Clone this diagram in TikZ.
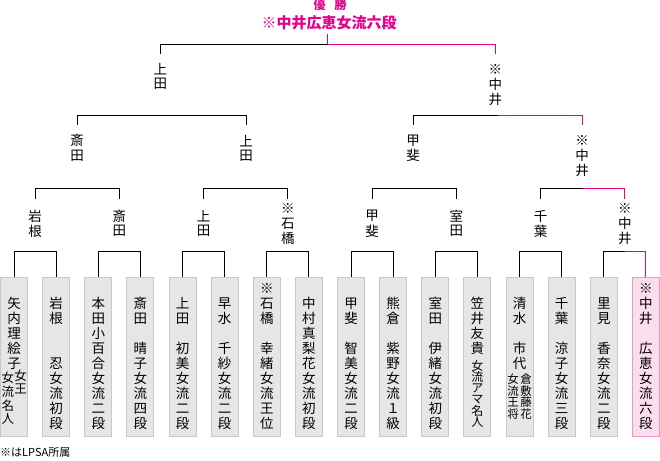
\documentclass[tikz,border=0pt]{standalone}
\usepackage{fontspec}
\setmainfont{Noto Sans CJK JP}
\usetikzlibrary{calc}
\definecolor{mg}{RGB}{230,0,140}
\definecolor{boxfill}{RGB}{230,230,230}
\definecolor{boxline}{RGB}{200,200,200}
\definecolor{pinkfill}{RGB}{252,221,238}
\definecolor{pinkline}{RGB}{240,150,200}
\makeatletter
\newcommand\vtxt[2][15pt]{\vbox{\offinterlineskip\@tfor\myvc:=#2\do{\hbox to 1.1em{\hss\vbox to #1{\vss\hbox{\myvc}\vss}\hss}}}}
\makeatother
\tikzset{
  box/.style={draw=boxline, fill=boxfill, line width=1pt, minimum width=27pt, minimum height=159pt, inner sep=0pt},
  pbox/.style={box, draw=pinkline, fill=pinkfill},
  vt/.style={inner sep=0pt, anchor=north, font=\fontsize{13.5}{15}\selectfont},
  smallvt/.style={inner sep=0pt, anchor=north, font=\fontsize{12}{12}\selectfont},
  lab/.style={inner sep=0pt, font=\fontsize{13.5}{15}\selectfont},
  br/.style={line width=1pt, black},
  brm/.style={line width=1pt, mg},
}
\begin{document}
\begin{tikzpicture}[x=1pt,y=-1pt]
\useasboundingbox (0,0) rectangle (660,460);
% title
\node[inner sep=0pt, text=mg, font=\fontsize{12}{12}\bfseries] (title1) at (330,5) {優\hspace{9pt}勝};
\node[inner sep=0pt, inner ysep=4pt, text=mg, font=\fontsize{15}{15}\bfseries] (title) at (329,23) {※中井広恵女流六段};
% boxes
\node[box] (b1) at (14,356.5) {};
\node[box] (b2) at (56.13,356.5) {};
\node[box] (b3) at (98.26,356.5) {};
\node[box] (b4) at (140.39,356.5) {};
\node[box] (b5) at (182.52,356.5) {};
\node[box] (b6) at (224.65,356.5) {};
\node[box] (b7) at (266.78,356.5) {};
\node[box] (b8) at (308.91,356.5) {};
\node[box] (b9) at (351.04,356.5) {};
\node[box] (b10) at (393.17,356.5) {};
\node[box] (b11) at (435.30,356.5) {};
\node[box] (b12) at (477.43,356.5) {};
\node[box] (b13) at (519.56,356.5) {};
\node[box] (b14) at (561.69,356.5) {};
\node[box] (b15) at (603.82,356.5) {};
\node[pbox] (b16) at (645.95,356.5) {};
% box texts
\node[vt] (t1) at (14,295.8) {\vtxt{矢内理絵子}};
\node[smallvt, font=\fontsize{12.5}{12}\selectfont] (t1a) at (7.8,371) {\vtxt[13.7pt]{女流名人}};
\node[smallvt, font=\fontsize{12.5}{12}\selectfont] (t1b) at (20.6,368.5) {\vtxt[13.5pt]{女王}};
\node[vt] (t2) at (56.13,295.8) {\vtxt{岩根　　忍女流初段}};
\node[vt] (t3) at (98.26,295.8) {\vtxt{本田小百合女流二段}};
\node[vt] (t4) at (140.39,295.8) {\vtxt{斎田　晴子女流四段}};
\node[vt] (t5) at (182.52,295.8) {\vtxt{上田　初美女流二段}};
\node[vt] (t6) at (224.65,295.8) {\vtxt{早水　千紗女流二段}};
\node[vt] (t7) at (266.78,280.8) {\vtxt{※石橋　幸緒女流王位}};
\node[vt] (t8) at (308.91,295.8) {\vtxt{中村真梨花女流初段}};
\node[vt] (t9) at (351.04,295.8) {\vtxt{甲斐　智美女流二段}};
\node[vt] (t10) at (393.17,295.8) {\vtxt{熊倉　紫野女流１級}};
\node[vt] (t11) at (435.30,295.8) {\vtxt{室田　伊緒女流初段}};
\node[vt] (t12) at (477.43,295.8) {\vtxt{笠井友貴}};
\node[smallvt] (t12a) at (477.43,360) {\vtxt[11.2pt]{女流アマ名人}};
\node[vt] (t13) at (519.56,295.8) {\vtxt{清水　市代}};
\node[smallvt, font=\fontsize{11.5}{12}\selectfont] (t13a) at (513.06,373) {\vtxt[11.7pt]{女流王将}};
\node[smallvt, font=\fontsize{11.5}{12}\selectfont] (t13b) at (526.06,373) {\vtxt[11.7pt]{倉敷藤花}};
\node[vt] (t14) at (561.69,295.8) {\vtxt{千葉　涼子女流三段}};
\node[vt] (t15) at (603.82,295.8) {\vtxt{里見　香奈女流二段}};
\node[vt] (t16) at (645.95,280.8) {\vtxt{※中井　広恵女流六段}};
% round 1 winners
\node[lab] (r11) at (35.07,223.5) {\vtxt{岩根}};
\node[lab] (r12) at (119.33,223.5) {\vtxt{斎田}};
\node[lab] (r13) at (203.59,223.5) {\vtxt{上田}};
\node[lab] (r14) at (287.85,223.5) {\vtxt{※石橋}};
\node[lab] (r15) at (372.11,223.5) {\vtxt{甲斐}};
\node[lab] (r16) at (456.37,223.5) {\vtxt{室田}};
\node[lab] (r17) at (540.63,223.5) {\vtxt{千葉}};
\node[lab] (r18) at (624.89,223.5) {\vtxt{※中井}};
% round 2 winners
\node[lab, anchor=north] (r21) at (77.2,133) {\vtxt{斎田}};
\node[lab, anchor=north] (r22) at (246,133) {\vtxt{上田}};
\node[lab, anchor=north] (r23) at (413,133) {\vtxt{甲斐}};
\node[lab, anchor=north] (r24) at (582,133) {\vtxt{※中井}};
% round 3 winners
\node[lab, anchor=north] (r31) at (160.3,61.5) {\vtxt{上田}};
\node[lab, anchor=north] (r32) at (495.3,61.5) {\vtxt{※中井}};
% note
\node[inner sep=0pt, anchor=base west, font=\fontsize{11}{13}\selectfont] (note) at (0,456.5) {※はLPSA所属};
% first round brackets
\draw[br] (b1.north) -- (b1.north |- 0,251.7) -| (b2.north);
\draw[br] (b3.north) -- (b3.north |- 0,251.7) -| (b4.north);
\draw[br] (b5.north) -- (b5.north |- 0,251.7) -| (b6.north);
\draw[br] (b7.north) -- (b7.north |- 0,251.7) -| (b8.north);
\draw[br] (b9.north) -- (b9.north |- 0,251.7) -| (b10.north);
\draw[br] (b11.north) -- (b11.north |- 0,251.7) -| (b12.north);
\draw[br] (b13.north) -- (b13.north |- 0,251.7) -| (b14.north);
\coordinate (m8) at ($(b15.north)!0.5!(b16.north)$);
\draw[br] (b15.north) -- (b15.north |- 0,251.7) -- (m8 |- 0,251.7);
\draw[brm] (m8 |- 0,251.7) -| (b16.north);
% second round brackets
\draw[br] (r11 |- 0,199.3) -- (r11 |- 0,188.3) -| (r12 |- 0,199.3);
\draw[br] (r13 |- 0,199.3) -- (r13 |- 0,188.3) -| (r14 |- 0,199.3);
\draw[br] (r15 |- 0,199.3) -- (r15 |- 0,188.3) -| (r16 |- 0,199.3);
\coordinate (m24) at ($(r17)!0.5!(r18)$);
\draw[br] (r17 |- 0,199.3) -- (r17 |- 0,188.3) -- (m24 |- 0,188.3);
\draw[brm] (m24 |- 0,188.3) -| (r18 |- 0,199.3);
% third round brackets
\draw[br] (r21 |- 0,125.3) -- (r21 |- 0,115.3) -| (r22 |- 0,125.3);
\coordinate (m32) at ($(r23)!0.5!(r24)$);
\draw[br] (r23 |- 0,125.3) -- (r23 |- 0,115.3) -- (m32 |- 0,115.3);
\draw[brm] (m32 |- 0,115.3) -| (r24 |- 0,125.3);
% final bracket
\coordinate (mf) at ($(r31)!0.5!(r32)$);
\draw[br] (r31 |- 0,54) -- (r31 |- 0,44.3) -- (mf |- 0,44.3);
\draw[brm] (mf |- 0,44.3) -| (r32 |- 0,54);
\draw[brm] (title.south -| mf) -- (mf |- 0,44.3);
\end{tikzpicture}
\end{document}
